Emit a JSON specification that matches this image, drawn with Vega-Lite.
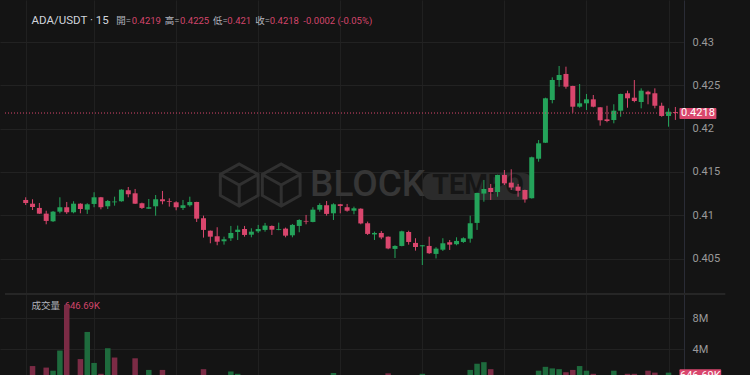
{
  "$schema": "https://vega.github.io/schema/vega-lite/v6.json",
  "width": 684,
  "height": 375,
  "autosize": {"type": "none"},
  "padding": {"left": 0, "top": 0, "right": 66, "bottom": 0},
  "background": "#141414",
  "config": {"view": {"stroke": null}, "text": {"font": "Roboto, Noto Sans CJK TC"}},
  "datasets": {
    "k": [
      {"i":0,"open":0.41176,"high":0.41207,"low":0.41118,"close":0.41141,"vol":420000,"vdir":"down"},
      {"i":1,"open":0.41133,"high":0.41184,"low":0.41060,"close":0.41095,"vol":1800000,"vdir":"down"},
      {"i":2,"open":0.41084,"high":0.41141,"low":0.41015,"close":0.41018,"vol":450000,"vdir":"down"},
      {"i":3,"open":0.41018,"high":0.41052,"low":0.40895,"close":0.40934,"vol":1600000,"vdir":"down"},
      {"i":4,"open":0.40930,"high":0.41049,"low":0.40922,"close":0.41041,"vol":1200000,"vdir":"up"},
      {"i":5,"open":0.41041,"high":0.41207,"low":0.41022,"close":0.41092,"vol":3800000,"vdir":"up"},
      {"i":6,"open":0.41092,"high":0.41153,"low":0.41015,"close":0.41034,"vol":9700000,"vdir":"down"},
      {"i":7,"open":0.41034,"high":0.41161,"low":0.41022,"close":0.41133,"vol":480000,"vdir":"up"},
      {"i":8,"open":0.41133,"high":0.41138,"low":0.41022,"close":0.41072,"vol":2700000,"vdir":"down"},
      {"i":9,"open":0.41064,"high":0.41138,"low":0.41015,"close":0.41126,"vol":6200000,"vdir":"up"},
      {"i":10,"open":0.41130,"high":0.41265,"low":0.41092,"close":0.41207,"vol":2200000,"vdir":"up"},
      {"i":11,"open":0.41207,"high":0.41211,"low":0.41068,"close":0.41092,"vol":800000,"vdir":"down"},
      {"i":12,"open":0.41103,"high":0.41176,"low":0.41072,"close":0.41164,"vol":4100000,"vdir":"up"},
      {"i":13,"open":0.41149,"high":0.41214,"low":0.41110,"close":0.41158,"vol":2900000,"vdir":"down"},
      {"i":14,"open":0.41161,"high":0.41300,"low":0.41156,"close":0.41295,"vol":520000,"vdir":"up"},
      {"i":15,"open":0.41288,"high":0.41326,"low":0.41207,"close":0.41242,"vol":400000,"vdir":"down"},
      {"i":16,"open":0.41253,"high":0.41303,"low":0.41130,"close":0.41133,"vol":2800000,"vdir":"down"},
      {"i":17,"open":0.41138,"high":0.41145,"low":0.41072,"close":0.41084,"vol":380000,"vdir":"down"},
      {"i":18,"open":0.41075,"high":0.41187,"low":0.41072,"close":0.41092,"vol":1300000,"vdir":"up"},
      {"i":19,"open":0.41103,"high":0.41233,"low":0.40995,"close":0.41184,"vol":500000,"vdir":"up"},
      {"i":20,"open":0.41184,"high":0.41280,"low":0.41126,"close":0.41161,"vol":1300000,"vdir":"down"},
      {"i":21,"open":0.41164,"high":0.41195,"low":0.41099,"close":0.41156,"vol":350000,"vdir":"down"},
      {"i":22,"open":0.41149,"high":0.41161,"low":0.41057,"close":0.41092,"vol":420000,"vdir":"down"},
      {"i":23,"open":0.41084,"high":0.41176,"low":0.41060,"close":0.41115,"vol":300000,"vdir":"up"},
      {"i":24,"open":0.41115,"high":0.41214,"low":0.41099,"close":0.41153,"vol":380000,"vdir":"up"},
      {"i":25,"open":0.41153,"high":0.41155,"low":0.40922,"close":0.40960,"vol":560000,"vdir":"down"},
      {"i":26,"open":0.40965,"high":0.40995,"low":0.40741,"close":0.40830,"vol":1400000,"vdir":"down"},
      {"i":27,"open":0.40821,"high":0.40823,"low":0.40676,"close":0.40752,"vol":550000,"vdir":"down"},
      {"i":28,"open":0.40757,"high":0.40861,"low":0.40653,"close":0.40694,"vol":520000,"vdir":"down"},
      {"i":29,"open":0.40699,"high":0.40752,"low":0.40660,"close":0.40722,"vol":400000,"vdir":"up"},
      {"i":30,"open":0.40734,"high":0.40876,"low":0.40703,"close":0.40795,"vol":1100000,"vdir":"up"},
      {"i":31,"open":0.40806,"high":0.40880,"low":0.40714,"close":0.40833,"vol":800000,"vdir":"up"},
      {"i":32,"open":0.40841,"high":0.40876,"low":0.40752,"close":0.40772,"vol":450000,"vdir":"down"},
      {"i":33,"open":0.40775,"high":0.40849,"low":0.40745,"close":0.40810,"vol":350000,"vdir":"up"},
      {"i":34,"open":0.40814,"high":0.40888,"low":0.40795,"close":0.40841,"vol":300000,"vdir":"up"},
      {"i":35,"open":0.40830,"high":0.40911,"low":0.40810,"close":0.40880,"vol":380000,"vdir":"up"},
      {"i":36,"open":0.40876,"high":0.40882,"low":0.40772,"close":0.40833,"vol":320000,"vdir":"down"},
      {"i":37,"open":0.40830,"high":0.40914,"low":0.40826,"close":0.40839,"vol":250000,"vdir":"up"},
      {"i":38,"open":0.40845,"high":0.40857,"low":0.40745,"close":0.40764,"vol":420000,"vdir":"down"},
      {"i":39,"open":0.40768,"high":0.40899,"low":0.40745,"close":0.40888,"vol":500000,"vdir":"up"},
      {"i":40,"open":0.40876,"high":0.40953,"low":0.40803,"close":0.40945,"vol":450000,"vdir":"up"},
      {"i":41,"open":0.40934,"high":0.41003,"low":0.40895,"close":0.40926,"vol":300000,"vdir":"down"},
      {"i":42,"open":0.40922,"high":0.41092,"low":0.40918,"close":0.41064,"vol":550000,"vdir":"up"},
      {"i":43,"open":0.41064,"high":0.41138,"low":0.41041,"close":0.41118,"vol":400000,"vdir":"up"},
      {"i":44,"open":0.41115,"high":0.41164,"low":0.40995,"close":0.41015,"vol":480000,"vdir":"down"},
      {"i":45,"open":0.41022,"high":0.41138,"low":0.40945,"close":0.41126,"vol":900000,"vdir":"up"},
      {"i":46,"open":0.41126,"high":0.41130,"low":0.41022,"close":0.41107,"vol":300000,"vdir":"down"},
      {"i":47,"open":0.41092,"high":0.41130,"low":0.41041,"close":0.41052,"vol":350000,"vdir":"down"},
      {"i":48,"open":0.41052,"high":0.41099,"low":0.41011,"close":0.41080,"vol":280000,"vdir":"up"},
      {"i":49,"open":0.41075,"high":0.41080,"low":0.40895,"close":0.40905,"vol":550000,"vdir":"down"},
      {"i":50,"open":0.40907,"high":0.40926,"low":0.40772,"close":0.40784,"vol":580000,"vdir":"down"},
      {"i":51,"open":0.40778,"high":0.40810,"low":0.40714,"close":0.40795,"vol":350000,"vdir":"up"},
      {"i":52,"open":0.40795,"high":0.40818,"low":0.40723,"close":0.40743,"vol":400000,"vdir":"down"},
      {"i":53,"open":0.40752,"high":0.40755,"low":0.40607,"close":0.40616,"vol":860000,"vdir":"down"},
      {"i":54,"open":0.40611,"high":0.40653,"low":0.40506,"close":0.40645,"vol":550000,"vdir":"up"},
      {"i":55,"open":0.40645,"high":0.40821,"low":0.40641,"close":0.40814,"vol":580000,"vdir":"up"},
      {"i":56,"open":0.40806,"high":0.40821,"low":0.40660,"close":0.40691,"vol":500000,"vdir":"down"},
      {"i":57,"open":0.40680,"high":0.40734,"low":0.40591,"close":0.40633,"vol":450000,"vdir":"down"},
      {"i":58,"open":0.40641,"high":0.40656,"low":0.40425,"close":0.40653,"vol":800000,"vdir":"up"},
      {"i":59,"open":0.40645,"high":0.40752,"low":0.40553,"close":0.40561,"vol":520000,"vdir":"down"},
      {"i":60,"open":0.40553,"high":0.40630,"low":0.40501,"close":0.40614,"vol":480000,"vdir":"up"},
      {"i":61,"open":0.40602,"high":0.40734,"low":0.40587,"close":0.40676,"vol":450000,"vdir":"up"},
      {"i":62,"open":0.40688,"high":0.40714,"low":0.40599,"close":0.40660,"vol":350000,"vdir":"down"},
      {"i":63,"open":0.40665,"high":0.40745,"low":0.40653,"close":0.40703,"vol":300000,"vdir":"up"},
      {"i":64,"open":0.40691,"high":0.40745,"low":0.40680,"close":0.40734,"vol":350000,"vdir":"up"},
      {"i":65,"open":0.40729,"high":0.40995,"low":0.40683,"close":0.40907,"vol":1300000,"vdir":"up"},
      {"i":66,"open":0.40911,"high":0.41260,"low":0.40830,"close":0.41257,"vol":2100000,"vdir":"up"},
      {"i":67,"open":0.41249,"high":0.41407,"low":0.41156,"close":0.41303,"vol":2300000,"vdir":"up"},
      {"i":68,"open":0.41315,"high":0.41361,"low":0.41176,"close":0.41268,"vol":1400000,"vdir":"down"},
      {"i":69,"open":0.41268,"high":0.41468,"low":0.41214,"close":0.41465,"vol":580000,"vdir":"up"},
      {"i":70,"open":0.41465,"high":0.41522,"low":0.41349,"close":0.41368,"vol":550000,"vdir":"down"},
      {"i":71,"open":0.41376,"high":0.41530,"low":0.41291,"close":0.41320,"vol":450000,"vdir":"down"},
      {"i":72,"open":0.41330,"high":0.41361,"low":0.41214,"close":0.41282,"vol":400000,"vdir":"down"},
      {"i":73,"open":0.41291,"high":0.41295,"low":0.41145,"close":0.41182,"vol":500000,"vdir":"down"},
      {"i":74,"open":0.41196,"high":0.41676,"low":0.41192,"close":0.41669,"vol":580000,"vdir":"up"},
      {"i":75,"open":0.41652,"high":0.41868,"low":0.41618,"close":0.41830,"vol":1200000,"vdir":"up"},
      {"i":76,"open":0.41837,"high":0.42357,"low":0.41834,"close":0.42350,"vol":1700000,"vdir":"up"},
      {"i":77,"open":0.42330,"high":0.42592,"low":0.42292,"close":0.42561,"vol":1500000,"vdir":"up"},
      {"i":78,"open":0.42561,"high":0.42723,"low":0.42484,"close":0.42619,"vol":1400000,"vdir":"up"},
      {"i":79,"open":0.42631,"high":0.42715,"low":0.42461,"close":0.42484,"vol":1000000,"vdir":"down"},
      {"i":80,"open":0.42492,"high":0.42495,"low":0.42184,"close":0.42253,"vol":1300000,"vdir":"down"},
      {"i":81,"open":0.42253,"high":0.42515,"low":0.42241,"close":0.42292,"vol":1800000,"vdir":"up"},
      {"i":82,"open":0.42292,"high":0.42400,"low":0.42215,"close":0.42338,"vol":1200000,"vdir":"up"},
      {"i":83,"open":0.42338,"high":0.42388,"low":0.42246,"close":0.42253,"vol":800000,"vdir":"down"},
      {"i":84,"open":0.42246,"high":0.42249,"low":0.42034,"close":0.42096,"vol":550000,"vdir":"down"},
      {"i":85,"open":0.42107,"high":0.42264,"low":0.42073,"close":0.42088,"vol":400000,"vdir":"down"},
      {"i":86,"open":0.42099,"high":0.42281,"low":0.42061,"close":0.42207,"vol":1200000,"vdir":"up"},
      {"i":87,"open":0.42207,"high":0.42403,"low":0.42137,"close":0.42400,"vol":580000,"vdir":"up"},
      {"i":88,"open":0.42408,"high":0.42438,"low":0.42241,"close":0.42350,"vol":800000,"vdir":"down"},
      {"i":89,"open":0.42357,"high":0.42561,"low":0.42304,"close":0.42319,"vol":800000,"vdir":"down"},
      {"i":90,"open":0.42307,"high":0.42465,"low":0.42234,"close":0.42438,"vol":550000,"vdir":"up"},
      {"i":91,"open":0.42426,"high":0.42438,"low":0.42281,"close":0.42396,"vol":1200000,"vdir":"down"},
      {"i":92,"open":0.42408,"high":0.42465,"low":0.42234,"close":0.42264,"vol":950000,"vdir":"down"},
      {"i":93,"open":0.42264,"high":0.42299,"low":0.42137,"close":0.42146,"vol":500000,"vdir":"down"},
      {"i":94,"open":0.42146,"high":0.42234,"low":0.42022,"close":0.42195,"vol":950000,"vdir":"up"},
      {"i":95,"open":0.4219,"high":0.4225,"low":0.421,"close":0.4218,"vol":646690,"vdir":"down"}
    ]
  },
  "resolve": {"scale": {"y": "independent"}},
  "layer": [
    {
      "layer": [
        {
          "data": {"values": [{}]},
          "mark": {"type": "point", "shape": "M-0.5,-0.5L-0.05,-0.25L-0.05,0.25L-0.5,0.5L-0.95,0.25L-0.95,-0.25Z M-0.95,-0.25L-0.5,0L-0.05,-0.25 M-0.5,0L-0.5,0.5 M0.5,-0.5L0.95,-0.25L0.95,0.25L0.5,0.5L0.05,0.25L0.05,-0.25Z M0.05,-0.25L0.5,0L0.95,-0.25 M0.5,0L0.5,0.5", "size": 7056, "filled": false, "stroke": "#303030", "strokeWidth": 3, "opacity": 1},
          "encoding": {
            "x": {"datum": 34.29, "type": "quantitative", "scale": {"domain": [-3.026, 95.53], "nice": false, "zero": false}, "axis": {"values": [0, 10, 22, 34, 46, 58, 70, 82, 94], "labels": false, "ticks": false, "domain": false, "grid": true, "gridColor": "#202020", "gridWidth": 1, "title": null}},
            "y": {"datum": 0.41349, "type": "quantitative", "scale": {"domain": [0.391549, 0.43485], "nice": false, "zero": false}, "axis": {"orient": "right", "values": [0.405, 0.41, 0.415, 0.42, 0.425, 0.43], "format": "~g", "labelColor": "#9a9a9a", "labelFontSize": 11, "labelFont": "Roboto", "ticks": false, "labelPadding": 8, "domain": true, "domainColor": "#2a2c36", "domainWidth": 1, "grid": true, "gridColor": "#222222", "title": null}}
          }
        },
        {
          "data": {"values": [{}]},
          "mark": {"type": "text", "text": "BLOCK", "fontSize": 37, "fontWeight": 500, "font": "Roboto", "color": "#363636", "align": "center", "baseline": "middle"},
          "encoding": {"x": {"datum": 50.0}, "y": {"datum": 0.41349}}
        },
        {
          "data": {"values": [{}]},
          "mark": {"type": "rect", "color": "#2b2b2b", "cornerRadius": 9},
          "encoding": {"x": {"datum": 58.07}, "x2": {"datum": 74.06}, "y": {"datum": 0.41487}, "y2": {"datum": 0.41176}}
        },
        {
          "data": {"values": [{}]},
          "mark": {"type": "text", "text": "TEMPO", "fontSize": 27, "fontWeight": "bold", "font": "Roboto", "color": "#161616", "align": "center", "baseline": "middle"},
          "encoding": {"x": {"datum": 66.14}, "y": {"datum": 0.41332}}
        },
        {
          "data": {"values": [{}]},
          "mark": {"type": "rule", "color": "#262626", "strokeWidth": 2},
          "encoding": {"x": {"datum": -3.026}, "x2": {"datum": 102.3}, "y": {"datum": 0.4009}}
        },
        {
          "data": {"name": "k"},
          "mark": {"type": "rule", "strokeWidth": 1},
          "encoding": {
            "x": {"field": "i", "type": "quantitative"},
            "y": {"field": "low", "type": "quantitative"},
            "y2": {"field": "high"},
            "color": {"condition": {"test": "datum.close >= datum.open", "value": "#24a35a"}, "value": "#d9466d"}
          }
        },
        {
          "data": {"name": "k"},
          "mark": {"type": "bar", "size": 5},
          "encoding": {
            "x": {"field": "i", "type": "quantitative"},
            "y": {"field": "open", "type": "quantitative"},
            "y2": {"field": "close"},
            "color": {"condition": {"test": "datum.close >= datum.open", "value": "#24a35a"}, "value": "#d9466d"}
          }
        },
        {
          "data": {"values": [{}]},
          "mark": {"type": "rule", "color": "#d9466d", "strokeWidth": 1, "strokeDash": [1, 2]},
          "encoding": {"x": {"datum": -3.026}, "x2": {"datum": 95.53}, "y": {"datum": 0.4218}}
        },
        {
          "data": {"values": [{}]},
          "mark": {"type": "rect", "color": "#d9466d", "cornerRadius": 1},
          "encoding": {"x": {"datum": 95.6}, "x2": {"datum": 101.0}, "y": {"datum": 0.42238}, "y2": {"datum": 0.42111}}
        },
        {
          "data": {"values": [{}]},
          "mark": {"type": "text", "text": "0.4218", "fontSize": 11, "color": "#ffffff", "align": "center", "baseline": "middle"},
          "encoding": {"x": {"datum": 98.3}, "y": {"datum": 0.4218}}
        },
        {
          "data": {"values": [{}]},
          "mark": {"type": "text", "text": "ADA/USDT · 15", "fontSize": 11.5, "color": "#d1d4dc", "align": "left", "baseline": "middle"},
          "encoding": {"x": {"datum": 0.864}, "y": {"datum": 0.43239}}
        },
        {
          "data": {"values": [{}]},
          "mark": {"type": "text", "text": "開=", "fontSize": 9.5, "color": "#b2b5be", "align": "left", "baseline": "middle"},
          "encoding": {"x": {"datum": 13.256}, "y": {"datum": 0.43239}}
        },
        {
          "data": {"values": [{}]},
          "mark": {"type": "text", "text": "0.4219", "fontSize": 9.5, "color": "#d3456b", "align": "left", "baseline": "middle"},
          "encoding": {"x": {"datum": 15.5}, "y": {"datum": 0.43239}}
        },
        {
          "data": {"values": [{}]},
          "mark": {"type": "text", "text": "高=", "fontSize": 9.5, "color": "#b2b5be", "align": "left", "baseline": "middle"},
          "encoding": {"x": {"datum": 20.317}, "y": {"datum": 0.43239}}
        },
        {
          "data": {"values": [{}]},
          "mark": {"type": "text", "text": "0.4225", "fontSize": 9.5, "color": "#d3456b", "align": "left", "baseline": "middle"},
          "encoding": {"x": {"datum": 22.56}, "y": {"datum": 0.43239}}
        },
        {
          "data": {"values": [{}]},
          "mark": {"type": "text", "text": "低=", "fontSize": 9.5, "color": "#b2b5be", "align": "left", "baseline": "middle"},
          "encoding": {"x": {"datum": 27.377}, "y": {"datum": 0.43239}}
        },
        {
          "data": {"values": [{}]},
          "mark": {"type": "text", "text": "0.421", "fontSize": 9.5, "color": "#d3456b", "align": "left", "baseline": "middle"},
          "encoding": {"x": {"datum": 29.48}, "y": {"datum": 0.43239}}
        },
        {
          "data": {"values": [{}]},
          "mark": {"type": "text", "text": "收=", "fontSize": 9.5, "color": "#b2b5be", "align": "left", "baseline": "middle"},
          "encoding": {"x": {"datum": 33.573}, "y": {"datum": 0.43239}}
        },
        {
          "data": {"values": [{}]},
          "mark": {"type": "text", "text": "0.4218", "fontSize": 9.5, "color": "#d3456b", "align": "left", "baseline": "middle"},
          "encoding": {"x": {"datum": 35.68}, "y": {"datum": 0.43239}}
        },
        {
          "data": {"values": [{}]},
          "mark": {"type": "text", "text": "-0.0002 (-0.05%)", "fontSize": 9.5, "color": "#d3456b", "align": "left", "baseline": "middle"},
          "encoding": {"x": {"datum": 40.6}, "y": {"datum": 0.43239}}
        },
        {
          "data": {"values": [{}]},
          "mark": {"type": "text", "text": "成交量", "fontSize": 9.5, "color": "#b2b5be", "align": "left", "baseline": "middle"},
          "encoding": {"x": {"datum": 0.864}, "y": {"datum": 0.39952}}
        },
        {
          "data": {"values": [{}]},
          "mark": {"type": "text", "text": "646.69K", "fontSize": 9.5, "color": "#d3456b", "align": "left", "baseline": "middle"},
          "encoding": {"x": {"datum": 5.7}, "y": {"datum": 0.39952}}
        }
      ]
    },
    {
      "layer": [
        {
          "data": {"name": "k"},
          "mark": {"type": "bar", "size": 5.5, "clip": true},
          "encoding": {
            "x": {"field": "i", "type": "quantitative"},
            "y": {"field": "vol", "type": "quantitative", "scale": {"domain": [645161, 49032258], "nice": false, "zero": false}, "axis": {"orient": "right", "values": [4000000, 8000000], "labelExpr": "(datum.value / 1000000) + 'M'", "labelColor": "#9a9a9a", "labelFontSize": 11, "labelFont": "Roboto", "ticks": false, "labelPadding": 8, "domain": false, "grid": true, "gridColor": "#222222", "title": null}},
            "y2": {"datum": 0},
            "color": {"condition": {"test": "datum.vdir == 'up'", "value": "#1e6b3d"}, "value": "#7b2b45"}
          }
        },
        {
          "data": {"values": [{}]},
          "mark": {"type": "rect", "color": "#d9466d", "cornerRadius": 1},
          "encoding": {"x": {"datum": 95.6}, "x2": {"datum": 101.7}, "y": {"datum": 1380000}, "y2": {"datum": -200000}}
        },
        {
          "data": {"values": [{}]},
          "mark": {"type": "text", "text": "646.69K", "fontSize": 11, "color": "#ffffff", "align": "center", "baseline": "middle"},
          "encoding": {"x": {"datum": 98.65}, "y": {"datum": 500000}}
        }
      ]
    }
  ]
}
